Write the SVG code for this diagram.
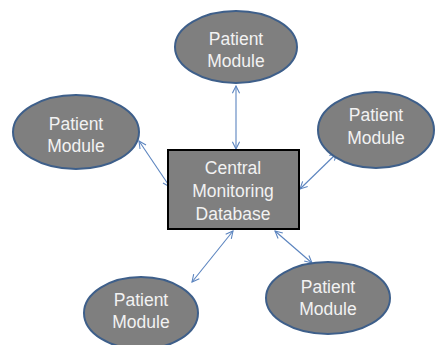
<svg xmlns="http://www.w3.org/2000/svg" width="435" height="345" viewBox="0 0 435 345">
  <style>
    .module ellipse { fill: #7f7f7f; stroke: #3e5f8a; stroke-width: 2; }
    .hub rect { fill: #7f7f7f; stroke: #000000; stroke-width: 2; }
    text { font-family: "Liberation Sans", Arial, sans-serif; font-size: 17.5px; fill: #f2f2f2; text-anchor: middle; }
    .link { stroke: #5b84bf; stroke-width: 1.1; fill: none; marker-start: url(#head); marker-end: url(#head); }
  </style>
  <defs>
    <marker id="head" viewBox="0 0 10 10" refX="9" refY="5" markerWidth="9" markerHeight="9" markerUnits="userSpaceOnUse" orient="auto-start-reverse">
      <path d="M1,1 L9,5 L1,9" fill="none" stroke="#5b84bf" stroke-width="1.2"/>
    </marker>
  </defs>
  <rect width="435" height="345" fill="#ffffff"/>

  <g id="connectors">
    <line class="link" x1="236" y1="86" x2="236" y2="149"/>
    <line class="link" x1="139" y1="141" x2="170" y2="187"/>
    <line class="link" x1="337" y1="153" x2="300" y2="189"/>
    <line class="link" x1="233" y1="231" x2="192" y2="282"/>
    <line class="link" x1="275" y1="231" x2="312" y2="263"/>
  </g>

  <g id="central-db" class="hub">
    <rect x="168" y="150" width="131" height="79"/>
    <text x="233" y="174">Central</text>
    <text x="233" y="197">Monitoring</text>
    <text x="233" y="220">Database</text>
  </g>

  <g id="module-top" class="module">
    <ellipse cx="236" cy="47" rx="61" ry="36"/>
    <text x="236" y="45">Patient</text>
    <text x="236" y="67">Module</text>
  </g>

  <g id="module-left" class="module">
    <ellipse cx="76" cy="132" rx="63" ry="37"/>
    <text x="76" y="130">Patient</text>
    <text x="76" y="152">Module</text>
  </g>

  <g id="module-right" class="module">
    <ellipse cx="376" cy="130" rx="58" ry="38"/>
    <text x="376" y="121">Patient</text>
    <text x="376" y="144">Module</text>
  </g>

  <g id="module-bottom-left" class="module">
    <ellipse cx="141" cy="313" rx="57" ry="36"/>
    <text x="141" y="306">Patient</text>
    <text x="141" y="328">Module</text>
  </g>

  <g id="module-bottom-right" class="module">
    <ellipse cx="328" cy="298" rx="62" ry="36"/>
    <text x="328" y="293">Patient</text>
    <text x="328" y="315">Module</text>
  </g>
</svg>
